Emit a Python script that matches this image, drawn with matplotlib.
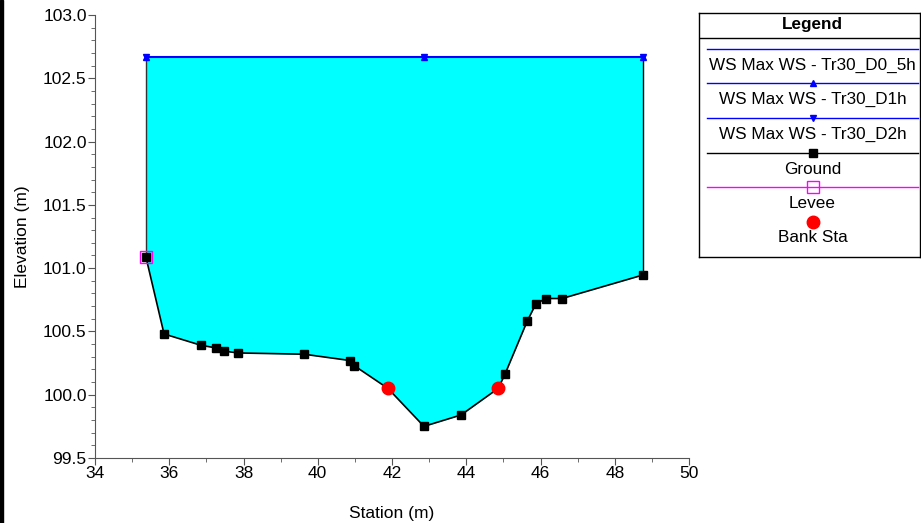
import matplotlib
matplotlib.use("Agg")
import matplotlib.pyplot as plt
from matplotlib.ticker import MultipleLocator
from matplotlib.patches import Rectangle

plt.rcParams['font.family'] = ['Liberation Sans', 'DejaVu Sans']

# ground profile
station = [35.37, 35.86, 36.86, 37.26, 37.47, 37.85, 39.63, 40.87, 40.98,
           41.89, 42.86, 43.86, 44.86, 45.04, 45.64, 45.88, 46.15, 46.58, 48.76]
ground = [101.09, 100.48, 100.39, 100.37, 100.345, 100.33, 100.32, 100.27, 100.23,
          100.05, 99.75, 99.84, 100.05, 100.16, 100.58, 100.72, 100.76, 100.76, 100.946]
bank_sta = [41.89, 44.86]
bank_elev = [100.05, 100.05]
levee_sta = [35.37]
levee_elev = [101.09]
ws_sta = [35.37, 42.86, 48.76]
ws_elev = 102.67

W, H = 921, 523
fig = plt.figure(figsize=(W / 100, H / 100), dpi=100)
ax = fig.add_axes([95 / W, 1 - 458 / H, (689 - 95) / W, (458 - 15) / H])

# water fill between ground and WS
ax.fill_between(station, ground, ws_elev, color='#00ffff', lw=0, zorder=1)
ax.plot([station[0], station[0]], [ground[0], ws_elev], color='#333333', lw=1, zorder=2)
ax.plot([station[-1], station[-1]], [ground[-1], ws_elev], color='black', lw=1, zorder=2)

ax.plot(ws_sta, [ws_elev] * 3, color='blue', lw=1.5, zorder=3)
ax.plot(ws_sta, [ws_elev] * 3, color='blue', lw=0, marker='^', ms=4, zorder=4)
ax.plot(ws_sta, [ws_elev] * 3, color='blue', lw=0, marker='v', ms=4, zorder=4)

ax.plot(station, ground, color='black', lw=1.2, marker='s', ms=5.5, zorder=5)
ax.plot(levee_sta, levee_elev, ls='none', marker='s', ms=9, mfc='none',
        mec='magenta', mew=1, zorder=6)
ax.plot(bank_sta, bank_elev, ls='none', marker='o', ms=9, color='red', zorder=7)

ax.set_xlim(34, 50)
ax.set_ylim(99.5, 103.0)
ax.xaxis.set_major_locator(MultipleLocator(2))
ax.xaxis.set_minor_locator(MultipleLocator(1))
ax.yaxis.set_major_locator(MultipleLocator(0.5))
ax.yaxis.set_minor_locator(MultipleLocator(0.1))
ax.yaxis.set_major_formatter(matplotlib.ticker.FormatStrFormatter('%.1f'))
for s in ['top', 'right']:
    ax.spines[s].set_visible(False)
for s in ['left', 'bottom']:
    ax.spines[s].set_color('#555555')
ax.tick_params(which='major', length=5, color='#555555', labelsize=12.5, pad=1)
ax.tick_params(which='minor', length=3, color='#555555')
ax.set_xlabel('Station (m)', fontsize=12.5, labelpad=18)
ax.set_ylabel('Elevation (m)', fontsize=12.5, labelpad=9)

# legend box
lg = fig.add_axes([699 / W, 1 - 257 / H, (920 - 699) / W, (257 - 13) / H])
lg.set_xlim(699, 920)
lg.set_ylim(257, 13)
lg.set_xticks([])
lg.set_yticks([])
for s in lg.spines.values():
    s.set_color('black')
    s.set_linewidth(1)
cx = 812.5
lg.text(cx, 25, 'Legend', ha='center', va='center', fontsize=12.3, fontweight='bold')
lg.plot([699, 920], [38, 38], color='black', lw=1)
entries = [
    ('WS Max WS - Tr30_D0_5h', 49, dict(color='blue', marker=None)),
    ('WS Max WS - Tr30_D1h', 83, dict(color='blue', marker='^', ms=5)),
    ('WS Max WS - Tr30_D2h', 118, dict(color='blue', marker='v', ms=5)),
    ('Ground', 153, dict(color='black', marker='s', ms=5.5)),
    ('Levee', 187, dict(color='magenta', marker='s', ms=8, mfc='none')),
]
for label, y, st in entries:
    lg.plot([707, 918], [y, y], lw=1, color=st['color'])
    if st['marker']:
        lg.plot([cx], [y], ls='none', marker=st['marker'], ms=st['ms'],
                color=st['color'], mfc=st.get('mfc', st['color']), mew=1)
    lg.text(cx, y + 16, label, ha='center', va='center', fontsize=12.3)
lg.plot([cx], [222], ls='none', marker='o', ms=9, color='red')
lg.text(cx, 237, 'Bank Sta', ha='center', va='center', fontsize=12.3)

# left dark strip
fig.patches.append(Rectangle((0, 0), 3 / W, 1, transform=fig.transFigure,
                             color='black', zorder=10))

fig.savefig('out.png', dpi=100)
